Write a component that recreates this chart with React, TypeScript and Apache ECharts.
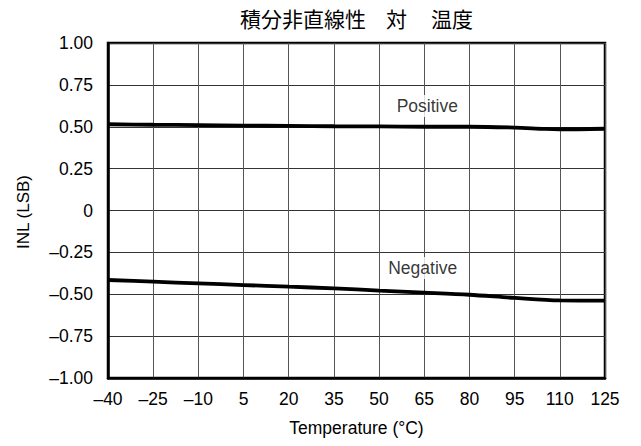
import React, { useEffect, useRef } from "react";
import * as echarts from "echarts";

const temps = [-40, -25, -10, 5, 20, 35, 50, 65, 80, 95, 105, 110, 125];
const positiveINL = [0.515, 0.512, 0.51, 0.507, 0.505, 0.503, 0.502, 0.5, 0.5, 0.495, 0.487, 0.485, 0.488];
const negTemps = [-40, -25, -10, 5, 20, 35, 50, 65, 80, 95, 110, 125];
const negativeINL = [-0.415, -0.425, -0.435, -0.445, -0.455, -0.465, -0.478, -0.49, -0.503, -0.522, -0.537, -0.538];
const labels = [
  { name: "Positive", x: 66, y: 0.624 },
  { name: "Negative", x: 64.5, y: -0.343 },
];
const titleParts = ["積分非直線性", "対", "温度"];
const xName = "Temperature (°C)";
const yName = "INL (LSB)";

const FONT = "'Liberation Sans', Arial, Helvetica, sans-serif";
const CJK = "'Noto Sans CJK JP', sans-serif";
const FS = 17.5;

export default function App() {
  const ref = useRef<HTMLDivElement>(null);
  useEffect(() => {
    if (!ref.current) return;
    const chart = echarts.init(ref.current, null, { renderer: "svg" });
    const minus = (s: string) => s.replace("-", "\u2013");
    const titleX = [240, 386, 431];
    chart.setOption({
      animation: false,
      backgroundColor: "#fff",
      textStyle: { fontFamily: FONT },
      grid: {
        left: 108,
        right: 36,
        top: 43,
        bottom: 68,
        show: true,
        borderColor: "#000",
        borderWidth: 2.5,
      },
      graphic: [
        ...titleParts.map((t, i) => ({
          type: "text",
          x: titleX[i],
          y: 17.5,
          style: {
            text: t,
            fontSize: 21,
            fontFamily: CJK,
            fill: "#000",
            align: "left",
            verticalAlign: "middle",
          },
        })),
        {
          type: "text",
          rotation: Math.PI / 2,
          style: {
            text: yName,
            fontSize: 17,
            fontFamily: FONT,
            fill: "#000",
            align: "center",
            verticalAlign: "middle",
          },
          x: 23,
          y: 212,
        },
      ],
      xAxis: {
        type: "value",
        min: -40,
        max: 125,
        interval: 15,
        name: xName,
        nameLocation: "middle",
        nameGap: 41,
        nameTextStyle: { fontSize: FS, color: "#000", fontFamily: FONT },
        axisLine: { show: true, onZero: false, lineStyle: { color: "#000", width: 2.5 } },
        axisTick: { show: false },
        splitLine: { show: true, lineStyle: { color: "#555", width: 1 } },
        axisLabel: {
          fontSize: FS,
          color: "#000",
          margin: 12,
          fontFamily: FONT,
          formatter: (v: number) => minus(String(v)),
        },
      },
      yAxis: {
        type: "value",
        min: -1,
        max: 1,
        interval: 0.25,
        axisLine: { show: true, onZero: false, lineStyle: { color: "#000", width: 2.5 } },
        axisTick: { show: false },
        splitLine: { show: true, lineStyle: { color: "#333", width: 1 } },
        axisLabel: {
          fontSize: FS,
          color: "#000",
          margin: 15,
          fontFamily: FONT,
          formatter: (v: number) => {
            if (Math.abs(v) < 1e-9) return "0";
            return minus(v.toFixed(2));
          },
        },
      },
      series: [
        {
          type: "line",
          data: temps.map((t, i) => [t, positiveINL[i]]),
          smooth: 0.3,
          symbol: "none",
          lineStyle: { color: "#000", width: 3.8 },
        },
        {
          type: "line",
          data: negTemps.map((t, i) => [t, negativeINL[i]]),
          smooth: 0.3,
          symbol: "none",
          lineStyle: { color: "#000", width: 3.8 },
        },
        {
          type: "scatter",
          data: labels.map((l) => ({ value: [l.x, l.y], name: l.name })),
          symbolSize: 0,
          label: {
            show: true,
            position: "inside",
            formatter: (p: any) => p.name,
            fontSize: FS,
            color: "#000",
            fontFamily: FONT,
            backgroundColor: "#fff",
            padding: [2, 3],
          },
        },
      ],
    });
    return () => chart.dispose();
  }, []);
  return <div ref={ref} style={{ width: 641, height: 446, margin: -8 }} />;
}
